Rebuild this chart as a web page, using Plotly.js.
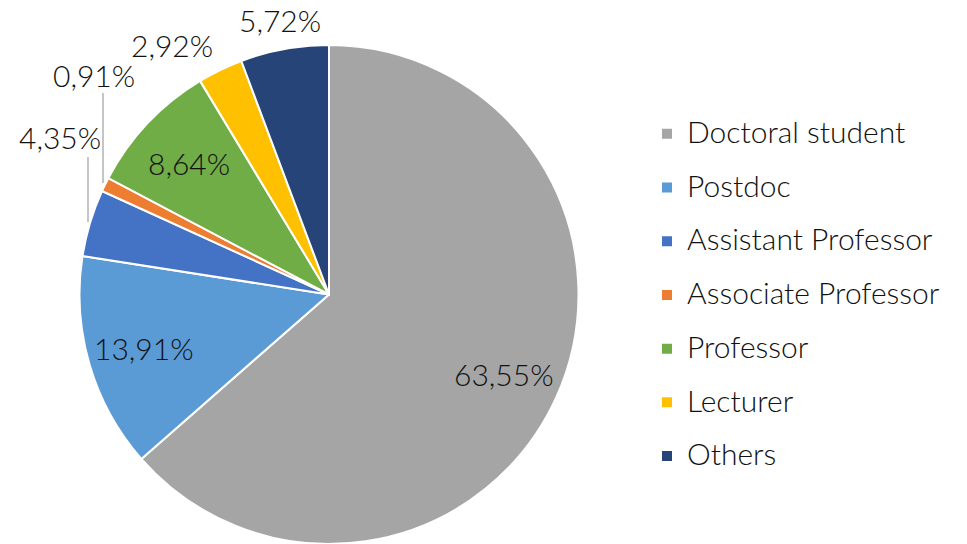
<!DOCTYPE html>
<html>
<head>
<meta charset="utf-8">
<script src="https://cdn.plot.ly/plotly-3.0.1.min.js"></script>
<style>
  html, body { margin: 0; padding: 0; background: #fff; }
  #chart { width: 967px; height: 544px; }
</style>
</head>
<body>
<div id="chart"></div>
<script>
// Data
const categories = ['Doctoral student', 'Postdoc', 'Assistant Professor', 'Associate Professor', 'Professor', 'Lecturer', 'Others'];
const shares = [63.55, 13.91, 4.35, 0.91, 8.64, 2.92, 5.72];
const colors = ['#A5A5A5', '#5B9BD5', '#4472C4', '#ED7D31', '#70AD47', '#FFC000', '#264478'];
// which slices get their label inside the pie
const labelInside = [true, true, false, false, true, false, false];

const W = 967, H = 544;
const M = { l: 0, r: 0, t: 45, b: 0 };
const FONT = 'Lato, "Open Sans", sans-serif';
const LABEL_SIZE = 30;

// pixel -> paper helpers for the labels
const px = x => (x - M.l) / (W - M.l - M.r);
const py = y => (H - M.b - y) / (H - M.t - M.b);

// pie geometry (matches the domain given to the trace below)
const plotH = H - M.t - M.b;
const R = plotH / 2;
const CX = 329, CY = M.t + R;

const total = shares.reduce((a, b) => a + b, 0);
const pctText = v => (v / total * 100).toFixed(2).replace('.', ',') + '%';

// outside label spots (Excel-style placement) with leader lines
const outsideSpots = {
  2: { x: 60, y: 137, lead: [88, 157, 88, 222] },
  3: { x: 94, y: 75, lead: [103, 93, 103, 183] },
  5: { x: 172, y: 45 },
  6: { x: 280, y: 20 }
};

const annotations = [];
const shapes = [];
let cum = 0;
shares.forEach((v, i) => {
  const mid = (cum + v / 2) / total * 2 * Math.PI; // clockwise from 12 o'clock
  cum += v;
  let lx, ly;
  if (labelInside[i]) {
    lx = CX + 0.77 * R * Math.sin(mid);
    ly = CY - 0.77 * R * Math.cos(mid);
  } else {
    const s = outsideSpots[i];
    lx = s.x; ly = s.y;
    if (s.lead) {
      shapes.push({
        type: 'line', xref: 'paper', yref: 'paper',
        x0: px(s.lead[0]), y0: py(s.lead[1]), x1: px(s.lead[2]), y1: py(s.lead[3]),
        line: { color: '#A6A6A6', width: 1.3 }
      });
    }
  }
  annotations.push({
    xref: 'paper', yref: 'paper', x: px(lx), y: py(ly),
    xanchor: 'center', yanchor: 'middle',
    text: pctText(v), showarrow: false,
    font: { family: FONT, size: LABEL_SIZE, color: '#111111', weight: 300 }
  });
});

const trace = {
  type: 'pie',
  labels: categories.map(c => '<span style="font-size:30px;baseline-shift:6px">' + c + '</span>'),
  values: shares,
  sort: false,
  direction: 'clockwise',
  rotation: 0,
  marker: { colors: colors, line: { color: '#ffffff', width: 2 } },
  textinfo: 'none',
  hoverinfo: 'skip',
  domain: { x: [0, 2 * CX / W], y: [0, 1] }
};

const layout = {
  width: W,
  height: H,
  margin: M,
  paper_bgcolor: '#ffffff',
  separators: ', ',
  font: { family: FONT, color: '#111111' },
  showlegend: true,
  legend: {
    x: px(647), xanchor: 'left',
    y: py(102), yanchor: 'top',
    maxheight: 500,
    font: { family: FONT, size: 39, color: '#111111', weight: 300 },
    itemclick: false, itemdoubleclick: false
  },
  annotations: annotations,
  shapes: shapes
};

Plotly.newPlot('chart', [trace], layout, { displayModeBar: false, staticPlot: true });
</script>
</body>
</html>
